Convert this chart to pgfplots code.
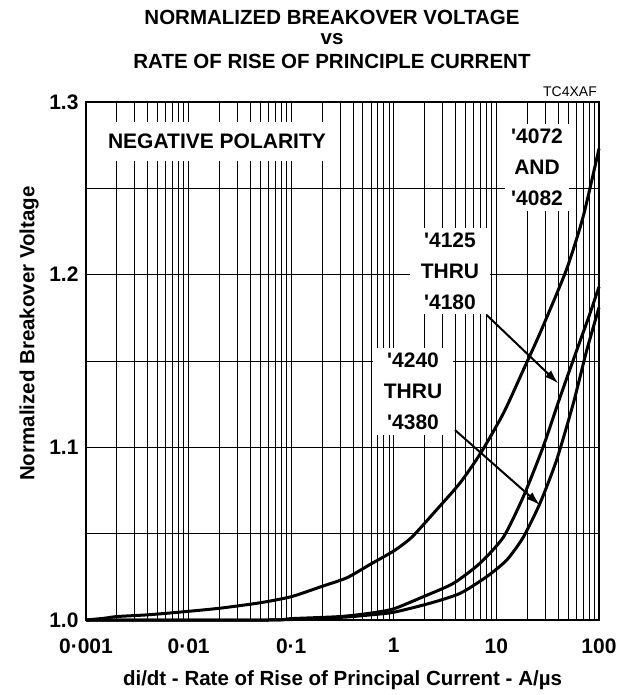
\documentclass[border=0pt]{standalone}
\usepackage{pgfplots}
\pgfplotsset{compat=1.18}
\usetikzlibrary{arrows.meta}
\usepackage{fontspec}
\setmainfont{Liberation Sans}

\begin{document}
\begin{tikzpicture}[x=1bp,y=1bp]
\path[use as bounding box] (-86,-75) rectangle (539,620);
\begin{axis}[
 at={(0,0)}, anchor=south west,
 width=513bp, height=518bp, scale only axis,
 xmode=log, log basis x=10,
 xmin=0.001, xmax=100, ymin=1, ymax=1.3,
 xtick={0.001,0.01,0.1,1,10,100},
 xticklabels={0·001,0·01,0·1,1,10,100},
 minor xtick={0.002,0.003,0.004,0.005,0.006,0.007,0.008,0.009,
              0.02,0.03,0.04,0.05,0.06,0.07,0.08,0.09,
              0.2,0.3,0.4,0.5,0.6,0.7,0.8,0.9,
              2,3,4,5,6,7,8,9,
              20,30,40,50,60,70,80,90},
 ytick={1,1.1,1.2,1.3},
 yticklabels={1.0,1.1,1.2,1.3},
 minor ytick={1.05,1.15,1.25},
 grid=both,
 grid style={black, line width=0.9bp},
 minor grid style={black, line width=0.9bp},
 major tick length=0pt, minor tick length=0pt,
 axis line style={line width=2bp},
 /pgf/number format/assume math mode=true,
 ticklabel style={font=\fontsize{21bp}{24bp}\selectfont\bfseries},
 xticklabel style={yshift=-15bp},
 yticklabel style={xshift=-4bp},
 clip=false,
]
% '4072 AND '4082
\addplot[black, line width=3bp, smooth, tension=0.4] coordinates {
 (0.001,1.000) (0.0015,1.001) (0.002,1.002) (0.004,1.003) (0.008,1.0045)
 (0.02,1.0068) (0.05,1.0100) (0.1,1.0135) (0.2,1.0195) (0.35,1.0245)
 (0.6,1.0325) (1.0,1.040) (1.5,1.048) (2.6,1.0637) (4.4,1.0792)
 (7,1.0965) (11.7,1.1197) (18.3,1.1448) (27,1.167) (48,1.2027)
 (70,1.2335) (100,1.273)};
% '4125 THRU '4180
\addplot[black, line width=3bp, smooth, tension=0.4] coordinates {
 (0.001,1.000) (0.06,1.000) (0.1,1.0008) (0.3,1.002) (0.6,1.004)
 (1.0,1.0065) (1.94,1.0135) (3.8,1.0212) (6.9,1.0328) (11.7,1.048)
 (18.3,1.0714) (28.6,1.1004) (41.7,1.129) (60.5,1.156) (80,1.176) (100,1.193)};
% '4240 THRU '4380
\addplot[black, line width=3bp, smooth, tension=0.4] coordinates {
 (0.001,1.000) (0.06,1.000) (0.3,1.0015) (0.6,1.003) (1.0,1.0045)
 (2.25,1.0097) (4.42,1.0154) (8,1.025) (12.6,1.0347) (18.3,1.048)
 (26.6,1.0676) (38.6,1.0926) (56.2,1.1255) (75.8,1.156) (100,1.181)};

\node[fill=white, inner xsep=8bp, inner ysep=12bp,
      font=\fontsize{21bp}{24bp}\selectfont\bfseries]
  at (axis cs:0.0189,1.2771) {NEGATIVE POLARITY};
\node[fill=white, align=center, inner xsep=6bp, inner ysep=5bp,
      font=\fontsize{21bp}{31bp}\selectfont\bfseries]
  at (axis cs:24.9,1.2623) {\textquotesingle4072\\AND\\\textquotesingle4082};
\node[fill=white, align=center, inner xsep=11bp, inner ysep=5bp,
      font=\fontsize{21bp}{31bp}\selectfont\bfseries]
  at (axis cs:3.53,1.2021) {\textquotesingle4125\\THRU\\\textquotesingle4180};
\node[fill=white, align=center, inner xsep=11bp, inner ysep=5bp,
      font=\fontsize{21bp}{31bp}\selectfont\bfseries]
  at (axis cs:1.54,1.1322) {\textquotesingle4240\\THRU\\\textquotesingle4380};

\draw[line width=2bp, -{Latex[length=14bp,width=9bp]}]
  (axis cs:8.04,1.1766) -- (axis cs:40.1,1.137);
\draw[line width=2bp, -{Latex[length=14bp,width=9bp]}]
  (axis cs:3.95,1.110) -- (axis cs:26.6,1.0666);
\end{axis}

\begin{scope}[every node/.style={font=\fontsize{20.5bp}{24bp}\selectfont\bfseries}]
\node at (246,603) {NORMALIZED BREAKOVER VOLTAGE};
\node at (246,581) {vs};
\node at (246,559) {RATE OF RISE OF PRINCIPLE CURRENT};
\node at (256.5,-60) {di/dt - Rate of Rise of Principal Current - A/µs};
\node[rotate=90] at (-57,286.5) {Normalized Breakover Voltage};
\end{scope}
\node[anchor=east, font=\fontsize{14bp}{16bp}\selectfont, inner sep=0pt] at (511,528) {TC4XAF};
\end{tikzpicture}
\end{document}
